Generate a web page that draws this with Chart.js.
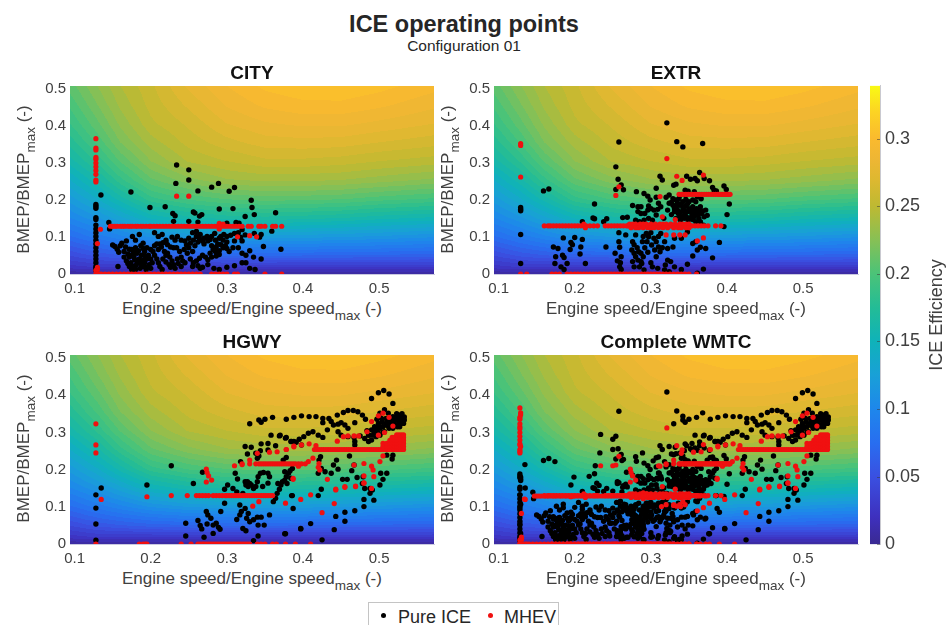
<!DOCTYPE html>
<html>
<head>
<meta charset="utf-8">
<title>ICE operating points</title>
<script src="https://cdn.jsdelivr.net/npm/chart.js@4"></script>
<style>
  html, body { margin: 0; padding: 0; background: #fff; }
  body { width: 952px; height: 625px; position: relative; overflow: hidden; font-family: "Liberation Sans", Arial, sans-serif; color: #404040; }
  canvas { position: absolute; }
  .txt { position: absolute; white-space: nowrap; line-height: 1; }
  .txt sub { font-size: 13.5px; line-height: 0; vertical-align: -6px; }
  .xlab { font-size: 17px; width: 364px; text-align: center; }
  .ylab { font-size: 17px; width: 188px; text-align: center; transform: rotate(-90deg); transform-origin: center; }
  #titulo { left: 0; width: 928px; top: 13px; text-align: center; font-size: 23.5px; font-weight: bold; color: #262626; }
  #sub { left: 0; width: 928px; top: 38px; text-align: center; font-size: 15.5px; color: #262626; }
  #legenda { position: absolute; left: 368px; top: 602px; width: 191px; height: 40px; border: 1px solid #c4c4c4; box-sizing: border-box; font-size: 18px; color: #262626; }
  #legenda i { position: absolute; top: 10px; width: 5px; height: 5px; border-radius: 50%; }
  #legenda span { position: absolute; top: 4px; }
</style>
</head>
<body>
<div class="txt" id="titulo">ICE operating points</div>
<div class="txt" id="sub">Configuration 01</div>

<canvas id="cCity" width="430" height="238" style="left:20px;top:60px"></canvas>
<canvas id="cExtr" width="430" height="238" style="left:444px;top:60px"></canvas>
<canvas id="cHgwy" width="430" height="239" style="left:20px;top:329px"></canvas>
<canvas id="cWmtc" width="430" height="239" style="left:444px;top:329px"></canvas>
<canvas id="cBar" width="80" height="490" style="left:850px;top:70px"></canvas>

<div class="txt xlab" style="left:70px;top:300px">Engine speed/Engine speed<sub>max</sub> (-)</div>
<div class="txt xlab" style="left:494px;top:300px">Engine speed/Engine speed<sub>max</sub> (-)</div>
<div class="txt xlab" style="left:70px;top:570px">Engine speed/Engine speed<sub>max</sub> (-)</div>
<div class="txt xlab" style="left:494px;top:570px">Engine speed/Engine speed<sub>max</sub> (-)</div>
<div class="txt ylab" style="left:-71px;top:171px">BMEP/BMEP<sub>max</sub> (-)</div>
<div class="txt ylab" style="left:353px;top:171px">BMEP/BMEP<sub>max</sub> (-)</div>
<div class="txt ylab" style="left:-71px;top:440px">BMEP/BMEP<sub>max</sub> (-)</div>
<div class="txt ylab" style="left:353px;top:440px">BMEP/BMEP<sub>max</sub> (-)</div>
<div class="txt ylab" style="left:842px;top:306px;font-size:18px">ICE Efficiency</div>

<div id="legenda">
  <i style="left:12px;background:#000"></i><span style="left:29px">Pure ICE</span>
  <i style="left:119px;background:#f01010"></i><span style="left:135px">MHEV</span>
</div>

<script>
const xTicks = [0.1, 0.2, 0.3, 0.4, 0.5];
const xTickLabels = ['0.1', '0.2', '0.3', '0.4', '0.5'];
const yTicks = [0, 0.1, 0.2, 0.3, 0.4, 0.5];
const yTickLabels = ['0', '0.1', '0.2', '0.3', '0.4', '0.5'];
const barTicks = [0, 0.05, 0.1, 0.15, 0.2, 0.25, 0.3];
const barTickLabels = ['0', '0.05', '0.1', '0.15', '0.2', '0.25', '0.3'];
const xMin = 0.094, xMax = 0.572, yMax = 0.508, barMax = 0.339;
// y readings below were taken against the frame height, the 0.5 tick sits a bit under the frame top
const yLeitura = 1.016;

// efficiency map read from the coloured background
const effX = [0.094, 0.13, 0.16, 0.2, 0.25, 0.3, 0.35, 0.4, 0.45, 0.5, 0.572];
const effY = [0, 0.02, 0.05, 0.1, 0.15, 0.2, 0.25, 0.3, 0.35, 0.4, 0.45, 0.5];
const effRows = [
  [.005,.025,.045,.075,.100,.120,.140,.160,.175,.188,.198,.208],
  [.005,.030,.055,.088,.115,.140,.162,.182,.198,.210,.220,.228],
  [.005,.030,.060,.098,.130,.160,.185,.205,.220,.230,.238,.244],
  [.005,.030,.065,.110,.150,.185,.210,.228,.240,.250,.255,.258],
  [.005,.030,.068,.118,.162,.198,.225,.245,.255,.262,.270,.278],
  [.005,.030,.070,.122,.168,.205,.235,.252,.265,.276,.285,.292],
  [.005,.030,.070,.122,.170,.208,.238,.258,.272,.283,.294,.302],
  [.005,.030,.069,.120,.168,.207,.238,.258,.273,.286,.298,.306],
  [.005,.030,.068,.118,.165,.205,.236,.256,.272,.286,.298,.307],
  [.005,.030,.067,.115,.160,.200,.232,.252,.268,.282,.294,.303],
  [.005,.030,.065,.110,.155,.195,.226,.248,.263,.276,.286,.295]
];
const mapStops = [0, .02, .05, .075, .1, .125, .15, .175, .2, .225, .25, .27, .285, .3, .32, .339];
const mapColors = [[58,42,146],[62,48,190],[58,80,225],[40,110,240],[30,135,235],[25,160,215],[15,178,185],[35,188,150],
  [75,195,120],[135,192,85],[190,185,50],[222,184,48],[238,182,52],[250,186,46],[252,212,35],[249,250,20]];

// CITY
const cityIce = [[.1346,.21],[.174,.218],[.234,.29],[.25,.277],[.233,.241],[.25,.25],[.262,.221],[.28,.231],[.289,.241],[.303,.22],[.31,.23],
  [.332,.196],[.333,.177],[.336,.158],[.324,.153],[.199,.177],[.219,.179],[.229,.161],[.256,.165],[.258,.162],[.264,.154],[.267,.158],[.29,.173],[.308,.174],
  [.364,.163],[.359,.114],[.371,.066],[.348,.073],[.345,.04],[.336,.108],[.343,.098],[.345,.105],[.145,.137],[.23,.14],[.232,.155],[.312,.137],[.316,.135],
  [.128,.01],[.128,.015],[.128,.02],[.128,.03],[.128,.04],[.128,.05],[.128,.06],[.128,.07],[.128,.08],[.128,.09],[.128,.1],[.128,.11],[.128,.12],[.128,.13],[.128,.145],[.128,.15],[.128,.175],[.128,.18],[.128,.185],
  [.15,.077],[.153,.073],[.156,.066],[.16,.075],[.158,.058],[.157,.02],[.165,.06],[.167,.072],[.165,.045],[.168,.035],[.17,.028],[.172,.02],[.175,.012],[.17,.053],[.172,.045],
  [.175,.065],[.178,.06],[.18,.07],[.176,.1],[.18,.09],[.185,.105],[.19,.068],[.192,.06],[.195,.07],[.188,.05],[.185,.04],[.183,.03],[.18,.022],[.186,.015],[.19,.02],[.192,.03],
  [.195,.04],[.197,.05],[.198,.025],[.2,.015],[.2,.065],[.205,.075],[.208,.08],[.212,.08],[.216,.083],[.205,.05],[.208,.04],[.21,.03],[.212,.02],[.215,.012],[.218,.06],[.22,.05],
  [.222,.055],[.225,.045],[.228,.035],[.23,.025],[.232,.015],[.22,.09],[.205,.11],[.21,.1],[.215,.105],[.22,.085],[.228,.098],[.232,.09],[.23,.07],[.234,.07],[.238,.06],[.24,.045],
  [.242,.035],[.245,.03],[.235,.04],[.24,.02],[.235,.1],[.24,.09],[.245,.088],[.25,.095],[.255,.11],[.26,.113],[.265,.105],[.27,.095],[.275,.088],[.27,.08],[.262,.085],[.258,.075],
  [.255,.06],[.25,.07],[.248,.055],[.252,.04],[.256,.03],[.26,.035],[.264,.042],[.262,.022],[.255,.02],[.265,.015],[.268,.05],[.272,.045],[.275,.038],[.278,.055],[.282,.065],[.285,.06],
  [.29,.062],[.295,.07],[.298,.075],[.28,.075],[.285,.09],[.288,.08],[.29,.095],[.295,.09],[.28,.1],[.284,.108],[.3,.1],[.305,.103],[.31,.108],[.315,.11],[.32,.118],[.3,.085],[.3,.068],
  [.308,.07],[.315,.07],[.32,.055],[.325,.05],[.325,.03],[.32,.03],[.31,.022],[.3,.018],[.29,.012],[.283,.015],[.33,.015],[.337,.012],[.275,.025],[.268,.018],[.178,.045],[.182,.055],[.186,.03],[.174,.03],[.18,.012],[.194,.012],
  [.162,.082],[.168,.088],[.172,.066],[.176,.052],[.179,.038],[.182,.028],[.177,.02],[.184,.062],[.187,.075],[.19,.082],[.193,.047],[.19,.036],[.188,.025],[.194,.018],[.2,.04],[.202,.03],[.203,.06],[.21,.065],[.214,.072],[.222,.078],[.226,.072],
  [.216,.04],[.22,.032],[.224,.025],[.226,.018],[.236,.028],[.244,.065],[.247,.077],[.252,.082],[.256,.09],[.26,.1],[.264,.094],[.268,.088],[.274,.1],[.278,.092],[.286,.072],[.292,.078],[.292,.1],[.296,.105],[.29,.052],[.286,.048],[.28,.045],
  [.146,.12],[.25,.14],[.262,.138],[.3,.135],[.32,.088],[.33,.062],[.335,.045],[.303,.06],[.31,.088],[.318,.098],[.324,.104]];
const cityMhev = [[.234,.207],[.25,.207],[.128,.36],[.128,.335],[.128,.33],[.128,.31],[.128,.305],[.128,.295],[.128,.285],[.128,.275],[.128,.265],[.128,.25],[.128,.245],
  [.134,.119],[.13,.081],[.314,.099],[.33,.102],[.339,.099],[.128,.01],[.13,.012],[.13,.018],[.29,.135],[.29,.12],[.295,.133]];
const cityLineX = [.147,.15,.153,.156,.16,.163,.166,.17,.173,.176,.18,.183,.187,.19,.194,.198,.2,.204,.208,.212,.216,.22,.224,.228,.232,.236,.24,.244,.248,.252,.256,.26,.264,.268,.272,.276,.28,.284,.288,.29,.292,.296,.3,.304,.308,.312,.316,.32,.328,.332,.342,.345,.35,.36,.364,.372];
const cityZeroX = [.128,.13,.132,.135,.14,.145,.15,.155,.16,.165,.17,.175,.18,.185,.19,.195,.2,.205,.21,.215,.22,.225,.23,.235,.24,.245,.25,.255,.26,.265,.28,.285,.29,.295,.3,.31,.314,.35,.372];

// EXTR
const extrIce = [[.321,.402],[.258,.351],[.334,.352],[.342,.338],[.368,.347],[.254,.285],[.257,.252],[.261,.237],[.254,.225],[.264,.224],[.159,.221],[.166,.226],[.226,.186],[.224,.149],[.226,.147],
  [.21,.139],[.238,.139],[.242,.147],[.263,.15],[.269,.151],[.281,.219],[.129,.028],[.129,.105],[.129,.172],[.129,.177],[.129,.168],
  [.312,.26],[.315,.25],[.307,.228],[.33,.236],[.333,.239],[.347,.26],[.352,.252],[.358,.254],[.361,.248],[.364,.27],[.37,.254],[.377,.248],[.345,.223],[.349,.22],[.357,.219],[.381,.23],[.386,.221],[.396,.234],[.399,.225],[.383,.223],[.403,.186],[.4,.158],[.396,.126],[.39,.084],[.381,.043],
  [.291,.214],[.296,.207],[.299,.197],[.276,.182],[.283,.179],[.287,.179],[.307,.204],[.31,.188],[.297,.181],[.3,.174],[.283,.166],[.287,.161],[.292,.161],[.296,.17],[.304,.17],[.309,.172],[.313,.179],[.307,.157],[.297,.148],[.291,.143],[.285,.139],[.302,.143],[.28,.143],
  [.329,.2],[.333,.197],[.337,.2],[.342,.192],[.346,.198],[.35,.192],[.355,.197],[.359,.192],[.329,.183],[.333,.179],[.337,.183],[.342,.177],[.346,.181],[.35,.174],[.355,.179],[.36,.174],[.365,.179],[.331,.166],[.336,.161],[.34,.166],[.345,.159],[.349,.166],[.354,.159],[.358,.163],[.362,.157],[.367,.161],[.37,.152],[.333,.148],[.339,.143],[.344,.148],[.349,.143],[.355,.145],[.359,.139],[.365,.139],[.369,.13],[.324,.188],[.322,.17],[.32,.204],[.324,.21],[.317,.148],[.361,.205],[.372,.17],[.366,.2],
  [.327,.19],[.335,.188],[.34,.186],[.344,.169],[.348,.186],[.352,.168],[.356,.171],[.361,.167],[.364,.168],[.331,.174],[.335,.17],[.327,.158],[.338,.154],[.342,.153],[.347,.151],[.352,.15],[.357,.153],[.363,.148],[.368,.168],[.374,.156],[.338,.209],[.345,.21],
  [.185,.096],[.2,.097],[.21,.092],[.172,.072],[.178,.068],[.195,.084],[.197,.078],[.194,.065],[.208,.072],[.207,.053],[.175,.046],[.174,.028],[.184,.05],[.186,.044],[.182,.019],[.186,.012],[.19,.028],[.214,.028],[.241,.072],[.258,.086],[.258,.11],[.267,.104],[.259,.071],[.253,.055],[.261,.046],[.256,.035],[.26,.03],[.259,.019],[.261,.012],
  [.276,.086],[.278,.078],[.28,.104],[.275,.064],[.278,.055],[.28,.046],[.284,.059],[.287,.055],[.283,.037],[.287,.033],[.29,.046],[.276,.033],[.278,.019],[.285,.019],[.291,.011],[.289,.086],[.294,.108],[.297,.099],[.295,.086],[.301,.077],[.304,.095],[.307,.086],[.31,.072],[.305,.064],[.312,.059],[.307,.046],[.322,.037],[.326,.033],[.319,.024],[.302,.019],[.309,.015],[.318,.011],[.324,.006],[.313,.108],[.318,.086],[.322,.068],[.329,.072],[.331,.095],[.34,.095],[.348,.112],[.355,.081],[.361,.064],[.365,.071],[.372,.068],[.355,.048],[.348,.026],[.34,.012],[.369,.013],[.361,.002],[.359,.086],[.331,.019],[.292,.07],[.296,.058],[.288,.028],[.3,.03],[.282,.07],[.29,.1],[.3,.11],[.31,.1],[.315,.07]];
const extrMhev = [[.321,.307],[.258,.232],[.254,.209],[.129,.347],[.129,.342],[.129,.258],[.334,.26],[.341,.249],[.312,.206],[.315,.152],[.369,.263],[.332,.145],[.32,.104],[.33,.104],[.338,.104],[.345,.104],[.369,.096],[.361,.088]];
const extrLineX = [.16,.165,.168,.172,.176,.18,.184,.188,.192,.196,.2,.204,.208,.212,.215,.22,.225,.23,.24,.244,.248,.252,.256,.26,.264,.268,.27,.272,.274,.276,.278,.28,.282,.284,.286,.288,.29,.292,.294,.296,.298,.3,.302,.304,.306,.308,.31,.312,.314,.316,.318,.32,.322,.324,.326,.328,.33,.332,.334,.336,.338,.34,.342,.344,.346,.348,.35,.352,.354,.358,.362,.366,.37,.375,.385,.392];
const extrLineHiX = [.212,.272,.276,.28,.286,.29,.294,.3,.306,.312,.316,.32,.326,.332,.338,.342,.346,.35];
const extrLineLoX = [.214,.274,.28,.284,.29,.296,.3,.304,.31,.316,.322,.33,.336,.34,.346,.35];
const extrUpperX = [.337,.34,.343,.346,.349,.352,.355,.358,.361,.364,.367,.37,.373,.376,.379,.382,.385,.388,.39,.392,.394,.396,.398,.4,.402,.404];
const extrZeroX = [.129,.137,.17,.175,.18,.19,.195,.2,.204,.208,.212,.216,.22,.224,.228,.232,.236,.24,.244,.248,.252,.256,.26,.264,.268,.272,.276,.28,.284,.288,.292,.296,.3,.304,.308,.312,.316,.32,.325,.33,.335,.34,.345,.35,.36];

// HGWY
const hgwyIce = [[.128,.01],[.128,.053],[.128,.095],[.128,.13],[.135,.148],[.195,.156],[.227,.207],[.268,.19],[.256,.16],[.246,.055],[.246,.021],[.262,.062],[.265,.049],[.267,.04],[.27,.018],
  [.273,.086],[.275,.077],[.279,.068],[.274,.053],[.282,.05],[.282,.028],[.286,.055],[.289,.044],[.291,.039],[.292,.086],[.297,.145],[.301,.156],[.308,.147],[.313,.138],[.297,.108],[.321,.134],[.317,.103],[.319,.086],[.317,.077],[.313,.065],[.324,.094],[.328,.081],[.326,.068],[.33,.059],[.335,.064],[.34,.071],[.345,.071],[.341,.05],[.349,.05],[.356,.077],[.321,.041],[.325,.035],[.341,.021],[.335,.009],[.377,.027],[.397,.041],[.387,.094],[.386,.128],
  [.324,.165],[.327,.165],[.33,.16],[.325,.156],[.328,.152],[.332,.156],[.335,.147],[.311,.187],[.314,.172],[.318,.218],[.324,.258],[.332,.256],[.327,.238],[.345,.265],[.354,.266],[.364,.26],[.344,.247],[.338,.24],[.342,.233],[.34,.227],[.354,.249],[.341,.178],[.344,.187],[.34,.165],[.348,.189],[.354,.187],[.356,.178],[.354,.161],[.347,.152],[.338,.152],
  [.361,.112],[.364,.121],[.366,.134],[.369,.145],[.371,.156],[.367,.16],[.373,.165],[.376,.169],[.378,.178],[.381,.187],[.383,.194],[.379,.16],[.384,.174],[.386,.2],[.376,.191],[.358,.288],[.369,.286],[.377,.28],[.385,.271],[.391,.269],[.398,.262],[.33,.318],[.345,.322],[.35,.33],[.36,.335],[.342,.328],
  [.378,.33],[.388,.335],[.398,.339],[.408,.337],[.417,.337],[.426,.332],[.426,.321],[.434,.332],[.437,.324],[.445,.341],[.453,.348],[.459,.353],[.466,.353],[.472,.35],[.478,.341],[.482,.33],[.44,.315],[.446,.317],[.45,.321],[.455,.315],[.459,.306],[.468,.321],[.432,.302],[.426,.282],[.42,.288],[.413,.297],[.407,.293],[.401,.284],[.395,.277],[.388,.271],[.384,.271],[.378,.282],[.37,.288],[.446,.297],[.45,.288],[.459,.284],[.467,.282],[.475,.286],[.468,.271],[.468,.262],[.481,.279],[.486,.288],[.49,.385],[.499,.4],[.506,.406],[.513,.397],[.518,.372],
  [.501,.346],[.507,.355],[.512,.346],[.518,.337],[.527,.341],[.531,.335],[.529,.324],[.532,.319],[.525,.328],[.52,.319],[.514,.324],[.509,.332],[.503,.332],[.499,.319],[.494,.31],[.49,.302],[.487,.288],[.496,.302],[.501,.306],[.505,.31],[.509,.315],[.492,.288],[.496,.284],[.49,.275],[.486,.271],[.501,.288],[.507,.297],[.513,.306],[.518,.306],[.527,.31],[.531,.324],[.522,.335],[.53,.345],[.524,.31],[.515,.315],
  [.497,.33],[.504,.322],[.51,.322],[.516,.33],[.523,.345],[.528,.332],[.533,.328],[.505,.296],[.498,.295],[.493,.298],[.484,.3],[.5,.31],[.512,.312],[.52,.328],[.526,.318],[.533,.336],
  [.517,.225],[.51,.235],[.518,.235],[.461,.233],[.444,.222],[.446,.198],[.44,.209],[.437,.187],[.429,.191],[.424,.2],[.42,.187],[.421,.222],[.423,.231],[.467,.209],[.464,.194],[.471,.176],[.452,.171],[.458,.171],[.479,.178],[.478,.16],[.502,.187],[.51,.187],[.505,.171],[.501,.156],[.488,.147],[.481,.147],[.424,.145],[.42,.128],[.385,.128],[.374,.222],[.378,.229],
  [.48,.099],[.48,.118],[.493,.116],[.468,.088],[.455,.084],[.455,.06],[.443,.073],[.441,.038],[.425,.011],[.491,.143],[.488,.134],[.41,.054],[.397,.04],[.376,.027]];
const hgwyMhev = [[.128,.318],[.128,.262],[.128,.241],[.128,0],[.135,.118],[.195,.125],[.227,.128],[.273,.198],[.274,.189],[.276,.18],[.28,.169],[.273,.164],
  [.378,.25],[.388,.259],[.398,.262],[.408,.265],[.417,.26],[.445,.272],[.453,.284],[.459,.286],[.467,.286],[.473,.286],[.484,.297],[.49,.324],[.499,.339],[.505,.346],[.513,.335],[.518,.312],[.507,.295],[.499,.288],
  [.413,.227],[.407,.218],[.394,.206],[.387,.171],[.421,.213],[.42,.203],[.422,.196],[.432,.171],[.467,.209],[.48,.213],[.49,.206],[.492,.196],[.501,.218],[.505,.233],[.493,.178],[.48,.18],[.48,.162],[.49,.147],[.469,.153],[.455,.15],[.443,.145],[.41,.13],
  [.377,.108],[.397,.118],[.387,.174],[.425,.083],[.441,.107],[.443,.143],[.455,.152],[.469,.152],[.48,.161],[.31,.207],[.32,.21],[.33,.222],[.34,.24],[.356,.243],[.366,.244],[.378,.25],[.388,.257],[.334,.1],[.342,.112]];
const hgwyLineX = [.248,.26,.264,.268,.272,.276,.282,.286,.29,.294,.298,.3,.303,.306,.309,.312,.315,.318,.321,.324,.327,.33,.333,.336,.339,.342,.345,.348,.351,.354,.357,.36];
const hgwyMidX = [.32,.33,.338,.342,.345,.348,.351,.354,.357,.36,.363,.366,.369,.372,.375,.378,.381,.384,.387,.39,.394,.398,.403];
const hgwyUpperX = [.415,.418,.421,.424,.427,.43,.433,.436,.439,.442,.445,.448,.451,.454,.457,.46,.463,.466,.469,.472,.475,.478,.481,.484,.487,.49,.493,.496,.499,.502,.505,.508,.511,.514,.517,.52,.523,.526,.529,.532];
const hgwyBlockX = [.505,.51,.514,.517,.52,.523,.526,.529,.532];
const hgwyZeroX = [.185,.19,.193,.195,.24,.253,.262,.265,.268,.27,.273,.276,.279,.282,.285,.288,.291,.294,.297,.3,.303,.306,.309,.312,.315,.318,.321,.324,.327,.33,.34,.345,.35,.36,.365,.377,.39,.41];

// puts one value of y against a list of x read along a horizontal run of points
function row(xs, y) {
  return xs.map(x => [x, y]);
}
const cityRed = [...cityMhev, ...row(cityLineX, .127), ...row(cityZeroX, 0)];
const extrRed = [...extrMhev, ...row(extrLineX, .128), ...row(extrLineHiX, .133), ...row(extrLineLoX, .123), ...row(extrUpperX, .212), ...row(extrZeroX, 0)];
const hgwyRed = [...hgwyMhev, ...row(hgwyLineX, .128), ...row(hgwyMidX, .212), ...row(hgwyUpperX, .25), ...row(hgwyBlockX, .258), ...row(hgwyBlockX, .266), ...row(hgwyBlockX.slice(2), .274), ...row(hgwyBlockX.slice(3), .282), ...row(hgwyBlockX.slice(5), .289), ...row(hgwyZeroX, 0)];
// the complete cycle is the three phases together
const wmtcIce = [...cityIce, ...extrIce, ...hgwyIce];
const wmtcRed = [...cityRed, ...extrRed, ...hgwyRed];

const tickColor = '#404040';
const tickFont = { family: '"Liberation Sans", Arial, sans-serif', size: 15 };

function achaIntervalo(lista, v) {
  let i = 0;
  while (i < lista.length - 2 && v > lista[i + 1]) i++;
  return i;
}

function eficiencia(x, y) {
  const i = achaIntervalo(effX, x);
  const j = achaIntervalo(effY, y);
  const tx = Math.min(1, Math.max(0, (x - effX[i]) / (effX[i + 1] - effX[i])));
  const ty = Math.min(1, Math.max(0, (y - effY[j]) / (effY[j + 1] - effY[j])));
  const a = effRows[i][j] * (1 - ty) + effRows[i][j + 1] * ty;
  const b = effRows[i + 1][j] * (1 - ty) + effRows[i + 1][j + 1] * ty;
  return a * (1 - tx) + b * tx;
}

function corDe(v) {
  const i = achaIntervalo(mapStops, v);
  const t = Math.min(1, Math.max(0, (v - mapStops[i]) / (mapStops[i + 1] - mapStops[i])));
  return mapColors[i].map((c, k) => c + (mapColors[i + 1][k] - c) * t);
}

// background of each panel, painted through the chart's own scales
const fundoPlugin = {
  id: 'fundo',
  beforeDatasetsDraw(chart) {
    const { ctx, chartArea: a, scales } = chart;
    const w = Math.round(a.right - a.left), h = Math.round(a.bottom - a.top);
    const img = ctx.createImageData(w, h);
    for (let py = 0; py < h; py++) {
      const yv = scales.y.getValueForPixel(a.top + py + 0.5) / yLeitura;
      for (let px = 0; px < w; px++) {
        const xv = scales.x.getValueForPixel(a.left + px + 0.5);
        const nivel = Math.round(eficiencia(xv, yv) / 0.008) * 0.008;
        const c = corDe(nivel);
        const p = (py * w + px) * 4;
        img.data[p] = c[0]; img.data[p + 1] = c[1]; img.data[p + 2] = c[2]; img.data[p + 3] = 255;
      }
    }
    ctx.putImageData(img, Math.round(a.left), Math.round(a.top));
  }
};

function criaPainel(id, titulo, ice, red, padDireita) {
  return new Chart(document.getElementById(id), {
    type: 'scatter',
    data: {
      datasets: [
        { label: 'MHEV', data: red.map(p => ({ x: p[0], y: p[1] * yLeitura })), backgroundColor: '#f01010', pointRadius: 2.6, pointBorderWidth: 0 },
        { label: 'Pure ICE', data: ice.map(p => ({ x: p[0], y: p[1] * yLeitura })), backgroundColor: '#000', pointRadius: 2.7, pointBorderWidth: 0 }
      ]
    },
    options: {
      responsive: false,
      animation: false,
      layout: { padding: { left: 0, right: padDireita, top: 0, bottom: 0 } },
      plugins: {
        legend: { display: false },
        tooltip: { enabled: false },
        title: {
          display: true, text: titulo, color: '#111', fullSize: false,
          font: { family: tickFont.family, size: 19, weight: 'bold', lineHeight: 1 },
          padding: { top: 4, bottom: 3 }
        }
      },
      scales: {
        x: {
          type: 'linear', min: xMin, max: xMax,
          grid: { display: false, drawTicks: false },
          border: { color: '#c9c9e0' },
          afterBuildTicks: s => { s.ticks = xTicks.map(v => ({ value: v })); },
          afterFit: s => { s.height = 24; },
          ticks: {
            color: tickColor, font: tickFont, padding: 6, autoSkip: false, maxRotation: 0,
            callback: v => xTickLabels[xTicks.indexOf(v)]
          }
        },
        y: {
          min: 0, max: yMax,
          grid: { display: false, drawTicks: false },
          border: { color: '#c9c9e0' },
          afterBuildTicks: s => { s.ticks = yTicks.map(v => ({ value: v })); },
          afterFit: s => { s.width = 50; },
          ticks: {
            color: tickColor, font: tickFont, padding: 4, autoSkip: false,
            callback: v => yTickLabels[yTicks.indexOf(v)]
          }
        }
      }
    },
    plugins: [fundoPlugin]
  });
}

criaPainel('cCity', 'CITY', cityIce, cityRed, 16);
criaPainel('cExtr', 'EXTR', extrIce, extrRed, 16);
criaPainel('cHgwy', 'HGWY', hgwyIce, hgwyRed, 16);
criaPainel('cWmtc', 'Complete WMTC', wmtcIce, wmtcRed, 16);

// colour bar: one floating bar filled with the colour map, short ticks inside it
const marcasPlugin = {
  id: 'marcas',
  afterDatasetsDraw(chart) {
    const { ctx, chartArea: a, scales } = chart;
    ctx.save();
    ctx.strokeStyle = 'rgba(60,60,60,0.55)';
    barTicks.forEach(v => {
      const y = Math.round(scales.y.getPixelForValue(v)) + 0.5;
      ctx.beginPath();
      ctx.moveTo(a.right - 3, y);
      ctx.lineTo(a.right, y);
      ctx.stroke();
    });
    ctx.restore();
  }
};

new Chart(document.getElementById('cBar'), {
  type: 'bar',
  data: {
    labels: ['ICE Efficiency'],
    datasets: [{
      data: [[0, barMax]],
      barPercentage: 1,
      categoryPercentage: 1,
      backgroundColor: c => {
        const { ctx, chartArea } = c.chart;
        if (!chartArea) return '#888';
        const g = ctx.createLinearGradient(0, chartArea.bottom, 0, chartArea.top);
        mapStops.forEach((s, i) => g.addColorStop(s / barMax, 'rgb(' + mapColors[i].join(',') + ')'));
        return g;
      }
    }]
  },
  options: {
    responsive: false,
    animation: false,
    layout: { padding: { left: 20, right: 0, top: 11, bottom: 11 } },
    plugins: { legend: { display: false }, tooltip: { enabled: false } },
    scales: {
      x: { display: false },
      y: {
        position: 'right', min: 0, max: barMax,
        grid: { display: false, drawTicks: false },
        border: { color: '#c9c9d0' },
        afterBuildTicks: s => { s.ticks = barTicks.map(v => ({ value: v })); },
        afterFit: s => { s.width = 50; },
        ticks: {
          color: tickColor, font: { family: tickFont.family, size: 18 }, padding: 5, autoSkip: false,
          callback: v => barTickLabels[barTicks.indexOf(v)]
        }
      }
    }
  },
  plugins: [marcasPlugin]
});
</script>
</body>
</html>
